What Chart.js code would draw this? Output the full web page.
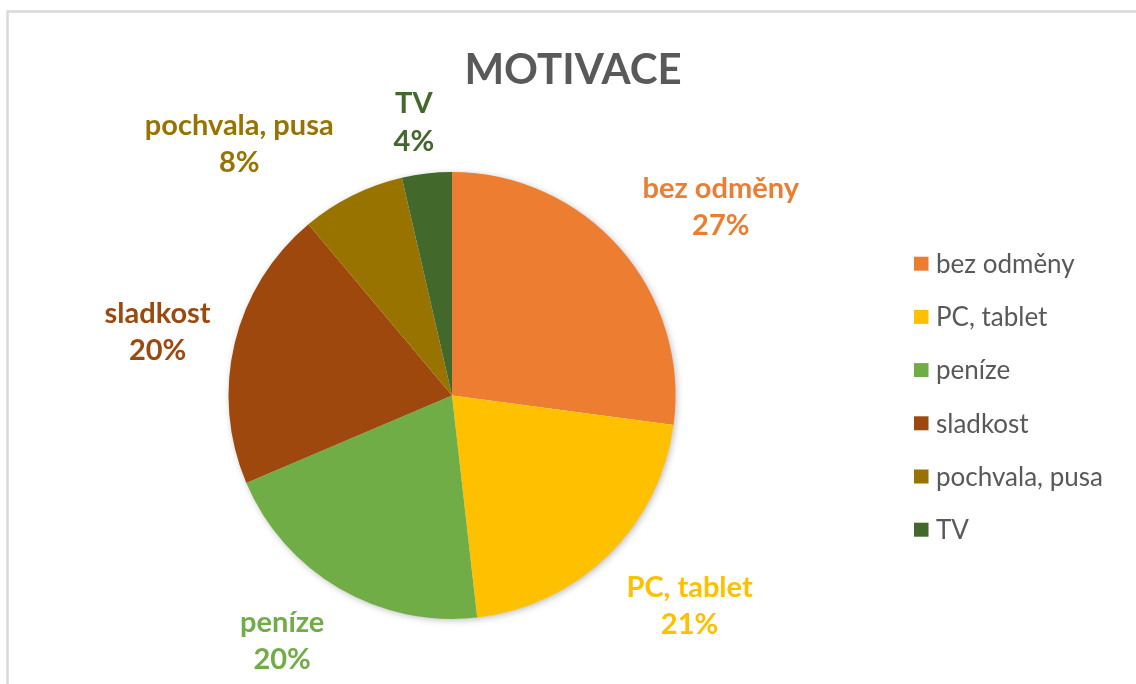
<!DOCTYPE html>
<html>
<head>
<meta charset="utf-8">
<script src="https://cdn.jsdelivr.net/npm/chart.js@4"></script>
<style>
  html, body { margin: 0; padding: 0; background: #ffffff; }
  #wrap { position: relative; width: 1136px; height: 684px; }
</style>
</head>
<body>
<div id="wrap"><canvas id="c" width="1136" height="684"></canvas></div>
<script>
// ---- data ----
const categories = ['bez odměny', 'PC, tablet', 'peníze', 'sladkost', 'pochvala, pusa', 'TV'];
const shares = [27.1, 21.1, 20.4, 20.3, 7.5, 3.6];
const sliceColors = ['#ED7D31', '#FFC000', '#70AD47', '#9E480E', '#997300', '#43682B'];
const chartTitle = 'MOTIVACE';

// label nudges (px) relative to a point just outside each slice's mid-angle
const labelNudges = [[48, -4.5], [32, -8], [-22, -17.5], [-9, -4], [-82, 2], [-5, 9.5]];

const borderPlugin = {
  id: 'frame',
  beforeDraw(chart) {
    const ctx = chart.ctx;
    ctx.save();
    ctx.fillStyle = '#ffffff';
    ctx.fillRect(0, 0, chart.width, chart.height);
    ctx.strokeStyle = '#d9d9d9';
    ctx.lineWidth = 2.5;
    ctx.beginPath();
    ctx.moveTo(7.5, chart.height);
    ctx.lineTo(7.5, 11.5);
    ctx.lineTo(chart.width, 11.5);
    ctx.stroke();
    ctx.restore();
  }
};

const shadowPlugin = {
  id: 'pieShadow',
  beforeDatasetsDraw(chart) {
    const arc = chart.getDatasetMeta(0).data[0];
    if (!arc) return;
    const ctx = chart.ctx;
    ctx.save();
    ctx.shadowColor = 'rgba(0,0,0,0.28)';
    ctx.shadowBlur = 7;
    ctx.shadowOffsetX = 1.5;
    ctx.shadowOffsetY = 1.5;
    ctx.fillStyle = '#ffffff';
    ctx.beginPath();
    ctx.arc(arc.x, arc.y, arc.outerRadius - 0.5, 0, Math.PI * 2);
    ctx.fill();
    ctx.restore();
  }
};

const titlePlugin = {
  id: 'bigTitle',
  afterDraw(chart) {
    const ctx = chart.ctx;
    ctx.save();
    ctx.font = 'bold 42px Lato';
    ctx.fillStyle = '#595959';
    ctx.textAlign = 'center';
    ctx.textBaseline = 'alphabetic';
    ctx.fillText(chartTitle, 573, 83.5);
    ctx.restore();
  }
};

const legendPlugin = {
  id: 'sideLegend',
  afterDraw(chart) {
    const ctx = chart.ctx;
    const ds = chart.data.datasets[0];
    ctx.save();
    ctx.font = '26px Lato';
    ctx.textBaseline = 'middle';
    ctx.textAlign = 'left';
    chart.data.labels.forEach((lab, i) => {
      const yc = 263.7 + i * 53.2;
      ctx.fillStyle = ds.backgroundColor[i];
      ctx.fillRect(914, yc - 7, 14.5, 14);
      ctx.fillStyle = '#595959';
      ctx.fillText(lab, 936, yc + 1);
    });
    ctx.restore();
  }
};

const labelPlugin = {
  id: 'outsideLabels',
  afterDatasetsDraw(chart) {
    const ctx = chart.ctx;
    const meta = chart.getDatasetMeta(0);
    const ds = chart.data.datasets[0];
    const total = ds.data.reduce((a, b) => a + b, 0);
    ctx.save();
    ctx.font = 'bold 29px Lato';
    ctx.textAlign = 'center';
    ctx.textBaseline = 'alphabetic';
    meta.data.forEach((arc, i) => {
      const mid = (arc.startAngle + arc.endAngle) / 2;
      const d = arc.outerRadius + 70;
      const x = arc.x + Math.cos(mid) * d + labelNudges[i][0];
      const y = arc.y + Math.sin(mid) * d + labelNudges[i][1];
      ctx.fillStyle = ds.backgroundColor[i];
      ctx.fillText(chart.data.labels[i], x, y);
      ctx.fillText(Math.round(ds.data[i] / total * 100) + '%', x, y + 37.5);
    });
    ctx.restore();
  }
};

new Chart(document.getElementById('c'), {
  type: 'pie',
  data: {
    labels: categories,
    datasets: [{
      data: shares,
      backgroundColor: sliceColors,
      borderWidth: 0,
      hoverOffset: 0,
      offset: 0
    }]
  },
  options: {
    responsive: false,
    animation: false,
    events: [],
    layout: { padding: { left: 228.5, right: 460.5, top: 172, bottom: 65 } },
    plugins: {
      legend: { display: false },
      title: { display: false },
      tooltip: { enabled: false }
    }
  },
  plugins: [borderPlugin, shadowPlugin, labelPlugin, titlePlugin, legendPlugin]
});
</script>
</body>
</html>
